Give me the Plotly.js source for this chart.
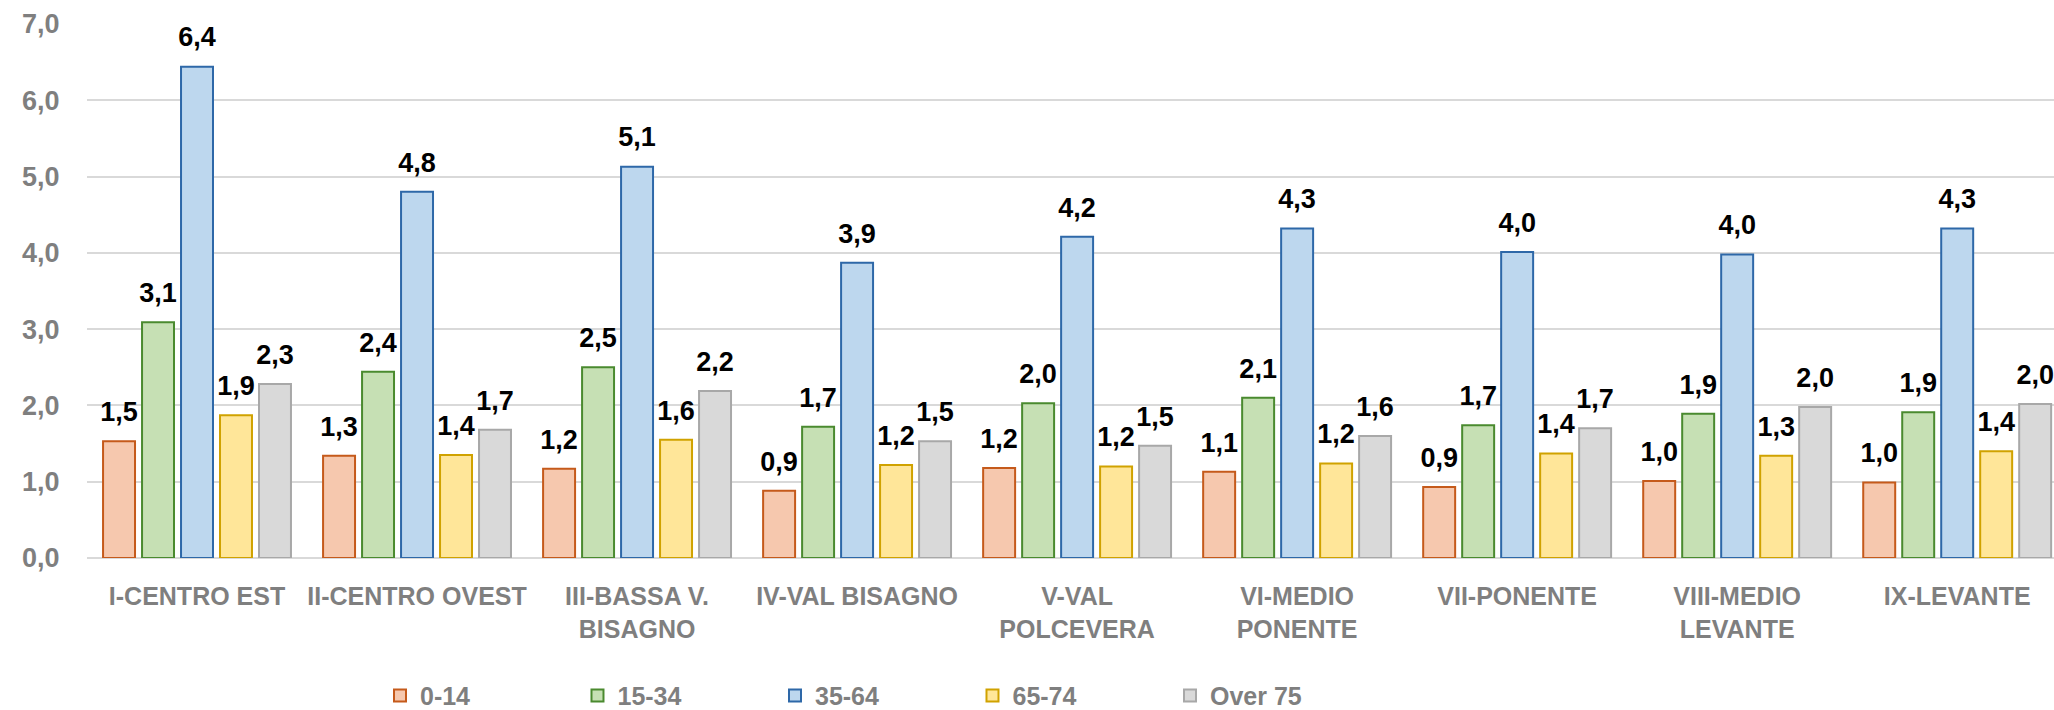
<!DOCTYPE html>
<html>
<head>
<meta charset="utf-8">
<script src="https://cdn.plot.ly/plotly-3.0.1.min.js"></script>
<style>
  html, body { margin: 0; padding: 0; background: #fff; }
  #chart { width: 2054px; height: 710px; }
</style>
</head>
<body>
<div id="chart"></div>
<script>
// Municipi (x axis categories)
const municipi = [
  "I-CENTRO EST",
  "II-CENTRO OVEST",
  "III-BASSA V.<br>BISAGNO",
  "IV-VAL BISAGNO",
  "V-VAL<br>POLCEVERA",
  "VI-MEDIO<br>PONENTE",
  "VII-PONENTE",
  "VIII-MEDIO<br>LEVANTE",
  "IX-LEVANTE",
];

// Values per age group
const eta0_14 = [1.53, 1.34, 1.17, 0.88, 1.18, 1.13, 0.93, 1.01, 0.99];
const eta15_34 = [3.09, 2.44, 2.50, 1.72, 2.03, 2.10, 1.74, 1.89, 1.91];
const eta35_64 = [6.44, 4.80, 5.13, 3.87, 4.21, 4.32, 4.01, 3.98, 4.32];
const eta65_74 = [1.87, 1.35, 1.55, 1.22, 1.20, 1.24, 1.37, 1.34, 1.40];
const over75 = [2.28, 1.68, 2.19, 1.53, 1.47, 1.60, 1.70, 1.98, 2.02];

const seriesNames = ["0-14", "15-34", "35-64", "65-74", "Over 75"];
const seriesValues = [eta0_14, eta15_34, eta35_64, eta65_74, over75];
const fills = ["#F6C8AE", "#C6E0B4", "#BDD7EE", "#FFE699", "#D9D9D9"];
const borders = ["#C55A1B", "#4A8A2F", "#2E68A8", "#D0A200", "#A8A8A8"];

const FONT = '"Liberation Sans", Arial, sans-serif';

const bars = seriesNames.map((name, i) => ({
  type: "bar",
  name: name,
  x: municipi,
  y: seriesValues[i],
  marker: { color: fills[i], line: { color: borders[i], width: 2 } },
  hoverinfo: "x+y",
}));

// value labels, grouped the same way as the bars
const labels = seriesNames.map((name, i) => ({
  type: "scatter",
  mode: "markers+text",
  name: name,
  showlegend: false,
  x: municipi,
  y: seriesValues[i],
  marker: { size: 20, color: "rgba(0,0,0,0)" },
  texttemplate: "%{y:.1f}",
  textposition: "top center",
  textfont: { family: FONT, size: 27, color: "#000", weight: "bold" },
  cliponaxis: false,
  hoverinfo: "skip",
}));

const layout = {
  width: 2054,
  height: 710,
  margin: { l: 87, r: 0, t: 24, b: 152 },
  paper_bgcolor: "#fff",
  plot_bgcolor: "#fff",
  separators: ",.",
  barmode: "group",
  bargap: 0.114,
  bargroupgap: 0.18,
  scattermode: "group",
  scattergap: 0.114,
  font: { family: FONT, color: "#7F7F7F", size: 24, weight: "bold" },
  xaxis: {
    type: "category",
    range: [-0.5, 8.44],
    showgrid: false,
    showline: false,
    zeroline: false,
    ticks: "outside",
    ticklen: 16,
    tickcolor: "rgba(0,0,0,0)",
    tickfont: { family: FONT, size: 25, color: "#7F7F7F", weight: "bold" },
  },
  yaxis: {
    range: [0, 7],
    dtick: 1,
    tickformat: ".1f",
    showgrid: true,
    gridcolor: "#D9D9D9",
    gridwidth: 2,
    zeroline: true,
    zerolinecolor: "#D9D9D9",
    zerolinewidth: 2,
    showline: false,
    ticks: "outside",
    ticklen: 21,
    tickcolor: "rgba(0,0,0,0)",
    tickfont: { family: FONT, size: 27, color: "#7F7F7F", weight: "bold" },
  },
  legend: {
    orientation: "h",
    xref: "container",
    yref: "container",
    x: 0.185,
    xanchor: "left",
    y: 0.02,
    yanchor: "middle",
    entrywidth: 152.5,
    font: { family: FONT, size: 25, color: "#7F7F7F", weight: "bold" },
  },
  showlegend: true,
};

Plotly.newPlot("chart", bars.concat(labels), layout, { displayModeBar: false, staticPlot: true });
</script>
</body>
</html>
